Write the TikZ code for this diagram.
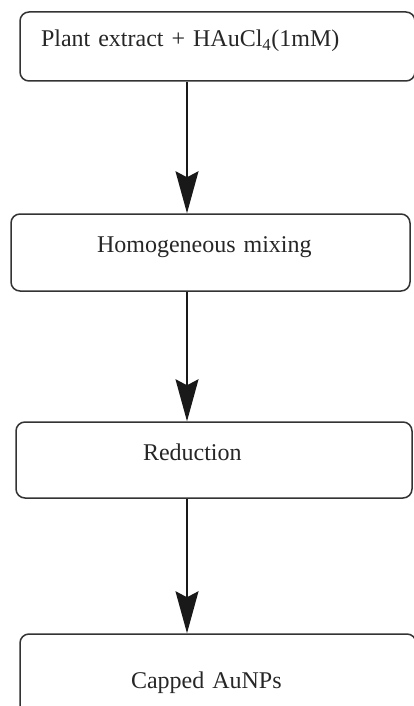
\documentclass[tikz,border=0pt]{standalone}
\usepackage{fontspec}
\setmainfont{Liberation Serif}
\usetikzlibrary{arrows.meta}

\begin{document}
\begin{tikzpicture}[x=1pt, y=-1pt,
    stage/.style={draw=black!80, line width=1.5pt, rounded corners=9pt, inner ysep=0pt,
      align=left, font=\fontsize{24}{28}\selectfont, text=black!85,
      text height=16pt, text depth=16pt},
    flow/.style={-{Stealth[length=42pt, width=23pt, inset=6pt]}, line width=1.5pt, draw=black!90}]
    \useasboundingbox (0, 0) rectangle (413, 706);
    \node[stage, inner xsep=21pt, text width=353pt, minimum height=69pt] (extract) at (217.5, 46.5)
      {Plant extract + HAuCl\textsubscript{4}(1mM)};
    \node[stage, inner xsep=86pt, text width=227pt, minimum height=77pt] (mixing) at (210.5, 252.5)
      {Homogeneous mixing};
    \node[stage, inner xsep=127pt, text width=142pt, minimum height=76pt] (reduction) at (214, 460)
      {Reduction};
    \node[stage, inner xsep=111pt, text width=174pt, minimum height=108pt] (capped) at (218, 688)
      {Capped AuNPs};
    \coordinate (axis) at (187, 0);
    \draw[flow] (extract.south -| axis) -- (mixing.north -| axis);
    \draw[flow] (mixing.south -| axis) -- (reduction.north -| axis);
    \draw[flow] (reduction.south -| axis) -- (capped.north -| axis);
  \end{tikzpicture}
\end{document}
